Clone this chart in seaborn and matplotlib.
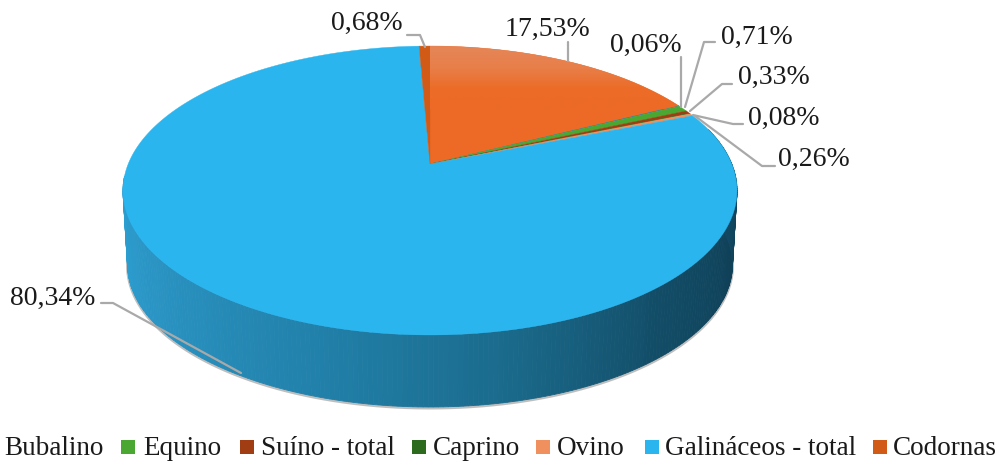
import numpy as np
import matplotlib.pyplot as plt
import seaborn as sns

# valores (sentido horario a partir das 12h)
categorias = ['Bovino', 'Bubalino', 'Equino', 'Suíno - total', 'Caprino', 'Ovino', 'Galináceos - total', 'Codornas']
valores = [17.53, 0.06, 0.71, 0.33, 0.08, 0.26, 80.34, 0.68]
cores = ['#ec6a25', '#2e75b6', '#4aa832', '#a03d12', '#2c6b1e', '#f0905e', '#2bb5ee', '#d15a17']

sns.set_theme(style='white')
plt.rcParams['font.family'] = ['Liberation Serif', 'DejaVu Serif']

fig = plt.figure(figsize=(10, 4.64), dpi=100)
ax = fig.add_axes([0, 0, 1, 1])
ax.set_xlim(0, 1000)
ax.set_ylim(464, 0)
ax.axis('off')

# perspectiva do disco
K = 0.1834


def topo(theta):
    u, v = np.sin(theta), np.cos(theta)
    return 430 + 301.8 * u / (1 + K * v), 165 - 139.6 * v / (1 + K * v)


def base(theta):
    u, v = np.sin(theta), np.cos(theta)
    return 430 + 297.3 * u / (1 + K * v), 239.6 - 137.5 * v / (1 + K * v)


# parede lateral com degrade
paleta = sns.blend_palette(['#2ca3d6', '#2a93c2', '#2283ad', '#1b6c8e', '#124c66', '#0f4058', '#14506a'], 240)
angulos = np.radians(np.linspace(265, 75, 241))
for i in range(240):
    t = np.linspace(angulos[i], angulos[i + 1], 3)
    xt, yt = topo(t)
    xb, yb = base(t[::-1])
    ax.fill(np.r_[xt, xb], np.r_[yt, yb], color=paleta[i], lw=0.6, zorder=2)

# sombra fina na borda de baixo
t = np.radians(np.linspace(268, 100, 200))
xb, yb = base(t)
ax.plot(xb, yb + 1, color='#8a8a8a', lw=2.2, alpha=0.55, zorder=1.5)

# fatias do topo
fim = np.cumsum(valores) / np.sum(valores) * 2 * np.pi
inicio = np.r_[0, fim[:-1]]
for a, b, cor, nome in zip(inicio, fim, cores, categorias):
    t = np.linspace(a, b, 300)
    x, y = topo(t)
    px, py = np.r_[430, x], np.r_[165, y]
    pol = ax.fill(px, py, color=cor, lw=0.3, zorder=3)[0]
    if nome == 'Bovino':
        # brilho da fatia maior
        cmap = sns.blend_palette(['#e58658', '#e87f4a', '#ec6c28', '#ec6a25'], as_cmap=True)
        img = ax.imshow(np.linspace(0, 1, 100).reshape(-1, 1), cmap=cmap, aspect='auto',
                        extent=(420, 700, 110, 47), zorder=3.5)
        img.set_clip_path(pol)
ax.set_xlim(0, 1000)
ax.set_ylim(464, 0)

# rotulos e linhas de chamada
rot_x = [547, 610, 721, 738, 748, 778, 10, 331]
rot_y = [29, 45, 37, 77, 118, 159, 298, 23]
rot_ha = ['center', 'left', 'left', 'left', 'left', 'left', 'left', 'left']
chamadas = [
    [(568, 43), (568, 62)],
    [(681, 58), (681, 108)],
    [(715, 43), (704, 43), (685, 108)],
    [(732, 85), (722, 85), (690, 112)],
    [(743, 125), (733, 125), (693, 116)],
    [(775, 167), (762, 167), (695, 117)],
    [(101, 304), (113, 304), (241, 374)],
    [(407, 36), (420, 36), (425, 48)],
]
for v, x, y, ha, linha in zip(valores, rot_x, rot_y, rot_ha, chamadas):
    ax.text(x, y, f'{v:.2f}'.replace('.', ',') + '%', fontsize=20, color='#1a1a1a',
            ha=ha, va='center', zorder=6)
    lx, ly = zip(*linha)
    ax.plot(lx, ly, color='#a9a9a9', lw=1.6, zorder=5)

# legenda (a primeira entrada fica cortada no original)
leg_caixa = [None, 121, 240, 412, 536, 645, 873]
leg_texto = [4, 143, 261, 433, 557, 665, 893]
for nome, cor, cx, tx in zip(categorias[1:], cores[1:], leg_caixa, leg_texto):
    if cx is not None:
        ax.add_patch(plt.Rectangle((cx, 441), 14, 14, color=cor, lw=0, zorder=4))
    ax.text(tx, 449, nome, fontsize=19.5, color='#1a1a1a', ha='left', va='center')

fig.savefig('out.png', dpi=100, facecolor='white')
